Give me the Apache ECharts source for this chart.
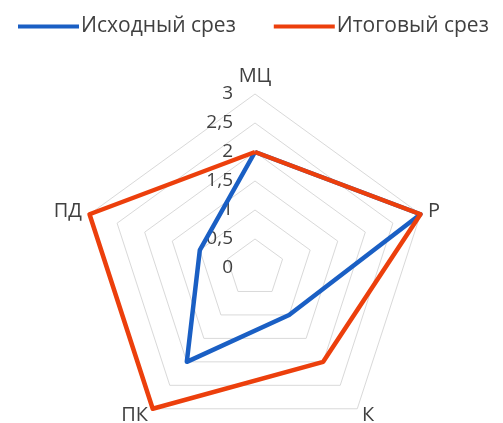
<!DOCTYPE html>
<html>
<head>
<meta charset="utf-8">
<script src="https://cdn.jsdelivr.net/npm/echarts@6/dist/echarts.min.js"></script>
<style>html,body{margin:0;padding:0;background:#fff}#c{width:503px;height:423px}</style>
</head>
<body>
<div id="c"></div>
<script>
// Indicators listed counter-clockwise from the top (ECharts draws radar axes counter-clockwise)
const indicators = ['МЦ', 'ПД', 'ПК', 'К', 'Р'];
const seriesNames = ['Исходный срез', 'Итоговый срез'];
const initialValues = [2, 1, 2, 1, 3];
const finalValues = [2, 3, 3, 2, 3];
const axisMax = 3;
const colors = ['#1a5fc4', '#ec3f0c'];

const chart = echarts.init(document.getElementById('c'), null, {renderer: 'canvas'});
const font = '"Open Sans", "Noto Sans", sans-serif';
chart.setOption({
  animation: false,
  backgroundColor: '#fff',
  legend: {
    top: 11, left: 13,
    itemWidth: 61, itemHeight: 4, itemGap: 38, icon: 'rect',
    textStyle: {fontFamily: font, fontSize: 21, color: '#404040', padding: [0,0,0,-3]},
    data: seriesNames
  },
  radar: {
    center: [255, 268],
    radius: 174,
    shape: 'polygon',
    splitNumber: 6,
    startAngle: 90,
    nameGap: 8,
    axisName: {fontFamily: font, fontSize: 20, color: '#404040'},
    axisLine: {show: false},
    axisTick: {show: false},
    splitArea: {show: false},
    splitLine: {lineStyle: {color: '#d9d9d9', width: 1}},
    axisLabel: {show: false, fontFamily: font, fontSize: 19, color: '#404040', margin: 22,
      formatter: v => String(v).replace('.', ',')},
    indicator: indicators.map((n, i) => i === 0
      ? {name: n, min: 0, max: axisMax, axisLabel: {show: true}}
      : {name: n, min: 0, max: axisMax})
  },
  series: [{
    type: 'radar',
    symbol: 'none',
    data: [
      {name: seriesNames[0], value: initialValues, lineStyle: {color: colors[0], width: 4.5}, itemStyle: {color: colors[0]}},
      {name: seriesNames[1], value: finalValues, lineStyle: {color: colors[1], width: 4.5}, itemStyle: {color: colors[1]}}
    ]
  }]
});
</script>
</body>
</html>
